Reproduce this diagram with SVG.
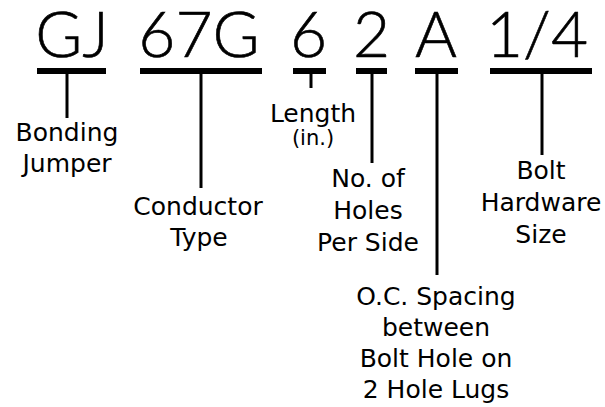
<svg xmlns="http://www.w3.org/2000/svg" width="605" height="407" viewBox="0 0 605 407">
<style>
.big{font-family:"Lato","DejaVu Sans",sans-serif;font-weight:300;font-size:64px;fill:#000;stroke:#000;stroke-width:0.6;text-anchor:middle}
.lbl{font-family:"DejaVu Sans","Verdana",sans-serif;font-size:25px;fill:#000;text-anchor:middle}
.sm{font-family:"DejaVu Sans","Verdana",sans-serif;font-size:21px;fill:#000;text-anchor:middle}
.bar{fill:#000}
.ln{stroke:#000;stroke-width:3;fill:none}
</style>
<rect width="605" height="407" fill="#fff"/>
<g id="code">
<text class="big" x="72" y="57">GJ</text>
<text class="big" x="199" y="57">67G</text>
<text class="big" x="308.5" y="57">6</text>
<text class="big" x="371.5" y="57">2</text>
<text class="big" x="436" y="57">A</text>
<text class="big" x="537" y="57">1/4</text>
</g>
<g id="connectors">
<rect class="bar" x="37" y="68" width="69" height="6"/>
<rect class="bar" x="140" y="68" width="122" height="6"/>
<rect class="bar" x="293" y="68" width="33" height="6"/>
<rect class="bar" x="356" y="68" width="31" height="6"/>
<rect class="bar" x="415" y="68" width="43" height="6"/>
<rect class="bar" x="490" y="68" width="102" height="6"/>
<line class="ln" x1="67" y1="74" x2="67" y2="118"/>
<line class="ln" x1="201" y1="74" x2="201" y2="188"/>
<line class="ln" x1="311" y1="74" x2="311" y2="88"/>
<line class="ln" x1="372" y1="74" x2="372" y2="163"/>
<line class="ln" x1="437" y1="74" x2="437" y2="275"/>
<line class="ln" x1="542" y1="74" x2="542" y2="155"/>
</g>
<g id="bonding-jumper">
<text class="lbl" x="67" y="141">Bonding</text>
<text class="lbl" x="67" y="172">Jumper</text>
</g>
<g id="conductor-type">
<text class="lbl" x="198" y="215">Conductor</text>
<text class="lbl" x="199" y="246">Type</text>
</g>
<g id="length">
<text class="lbl" x="313" y="122">Length</text>
<text class="sm" x="313" y="145">(in.)</text>
</g>
<g id="holes-per-side">
<text class="lbl" x="368" y="187">No. of</text>
<text class="lbl" x="368" y="219">Holes</text>
<text class="lbl" x="368" y="251">Per Side</text>
</g>
<g id="oc-spacing">
<text class="lbl" x="436" y="305">O.C. Spacing</text>
<text class="lbl" x="436" y="336">between</text>
<text class="lbl" x="436" y="367">Bolt Hole on</text>
<text class="lbl" x="436" y="398">2 Hole Lugs</text>
</g>
<g id="bolt-size">
<text class="lbl" x="541" y="179">Bolt</text>
<text class="lbl" x="541" y="211">Hardware</text>
<text class="lbl" x="541" y="243">Size</text>
</g>
</svg>
